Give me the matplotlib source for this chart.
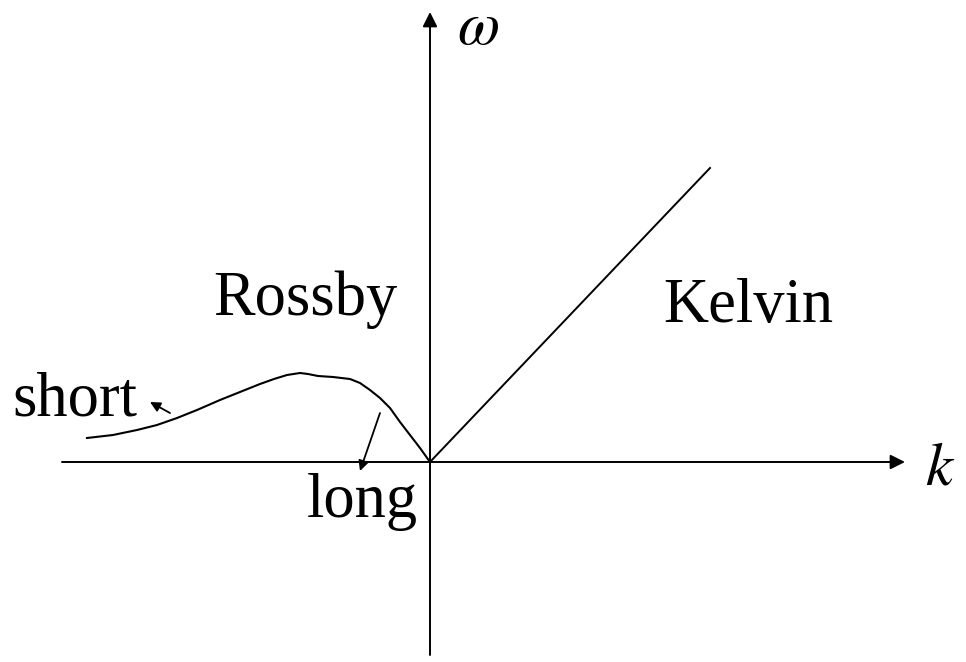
import matplotlib.pyplot as plt
import numpy as np

# sketch of equatorial wave dispersion: Rossby (left) and Kelvin (right)
# units: pixels relative to the origin of the k-omega axes
rossby_k = [-343, -317, -293, -273, -253, -233, -210, -190, -170, -156,
            -143, -130, -122, -112, -97, -80, -70, -60, -50, -40, -30,
            -20, -10, 0]
rossby_w = [24, 27, 32, 37, 44, 52, 62, 70, 78, 83, 87, 89, 88, 86, 85,
            83, 79, 72, 64, 54, 40, 27, 14, 0]
kelvin_k = [0, 280]
kelvin_w = [0, 294]

k_axis = (-368, 475)
w_axis = (-193, 450)

labels = ['Rossby', 'Kelvin', 'short', 'long']
label_pos = [(-125, 162), (318, 155), (-355, 62), (-68, -40)]

plt.rcParams['font.family'] = ['Liberation Serif', 'DejaVu Serif']
plt.rcParams['mathtext.fontset'] = 'stix'

fig = plt.figure(figsize=(9.66, 6.62), dpi=100)
ax = fig.add_axes([0, 0, 1, 1])
ax.set_xlim(-430, 536)
ax.set_ylim(-200, 462)
ax.axis('off')

arrow = dict(arrowstyle='-|>', color='black', lw=1.4, mutation_scale=22,
             shrinkA=0, shrinkB=0)
ax.annotate('', xy=(k_axis[1], 0), xytext=(k_axis[0], 0), arrowprops=arrow)
ax.annotate('', xy=(0, w_axis[1]), xytext=(0, w_axis[0]), arrowprops=arrow)

ax.plot(rossby_k, rossby_w, color='black', lw=1.5, solid_joinstyle='round')
ax.plot(kelvin_k, kelvin_w, color='black', lw=1.4)

small = dict(arrowstyle='-|>', color='black', lw=1.3, mutation_scale=15,
             shrinkA=0, shrinkB=0)
ax.annotate('', xy=(-280, 60), xytext=(-260, 49), arrowprops=small)
ax.annotate('', xy=(-70, -9), xytext=(-50, 49), arrowprops=small)

for text, (x, y) in zip(labels, label_pos):
    ax.text(x, y, text, fontsize=45, ha='center', va='center')

ax.text(48, 433, r'$\omega$', fontsize=44, ha='center', va='center')
ax.text(510, -8, r'$k$', fontsize=44, ha='center', va='center')

fig.savefig('out.png', dpi=100)
